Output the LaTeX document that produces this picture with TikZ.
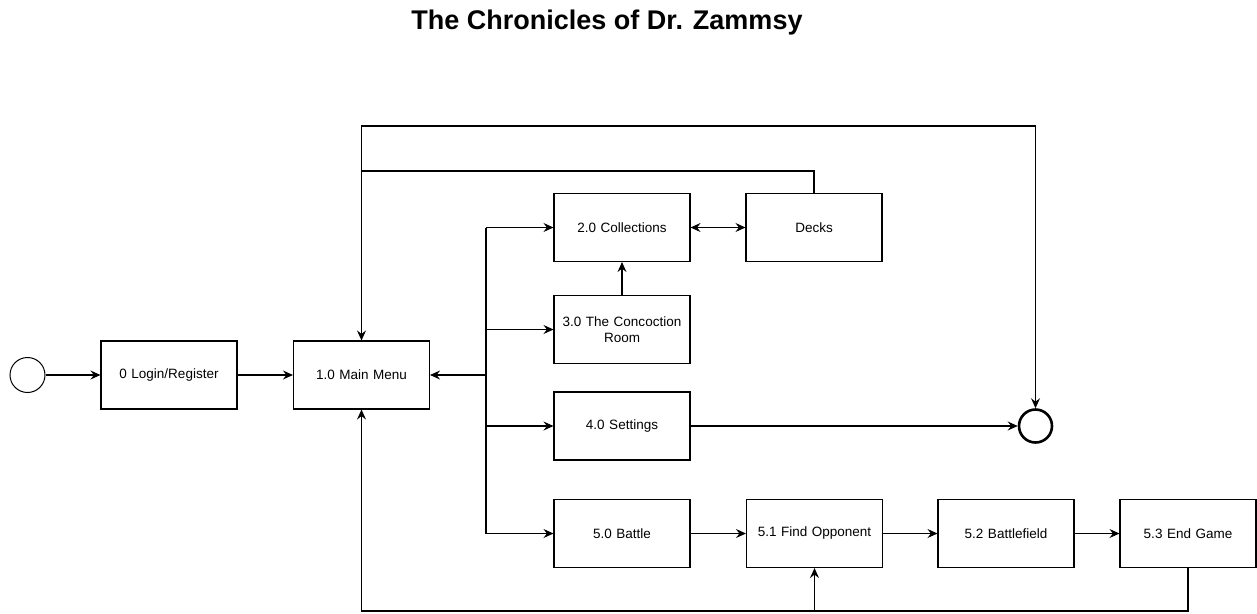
\documentclass[tikz,border=0pt]{standalone}
\usepackage{fontspec}
\setmainfont{Liberation Sans}
\usetikzlibrary{arrows.meta}
\begin{document}
\begin{tikzpicture}[x=1pt,y=-1pt,
  box/.style={draw, line width=1.1pt, minimum width=136pt, minimum height=68pt, inner sep=2pt, align=center, text width=128pt, font=\fontsize{13.5}{16.5}\selectfont},
  conn/.style={line width=1.1pt},
  tip/.tip={Stealth[length=10pt,width=9pt,inset=3.5pt]},
  arr/.style={conn, -tip},
]
\useasboundingbox[fill=white] (0,0) rectangle (1257,613);

\node[font=\bfseries\fontsize{27}{30}\selectfont] (title) at (607,23) {The Chronicles of Dr. Zammsy};

\node[circle, draw, line width=1pt, minimum size=35pt, inner sep=0pt] (start) at (27.5,375) {};
\node[box] (login) at (169,375) {0 Login/Register};
\node[box] (main) at (361.5,375) {1.0 Main Menu};
\node[box] (coll) at (622,227.5) {2.0 Collections};
\node[box] (decks) at (814,227.5) {Decks};
\node[box] (conc) at (622,329.5) {3.0 The Concoction\\Room};
\node[box] (set) at (622,426) {4.0 Settings};
\node[box] (battle) at (622,533.5) {5.0 Battle};
\node[box] (find) at (814.5,533.5) {5.1 Find Opponent};
\node[box] (field) at (1006,533.5) {5.2 Battlefield};
\node[box] (endg) at (1188,533.5) {5.3 End Game};
\node[circle, draw, line width=2.6pt, minimum size=33pt, inner sep=0pt] (endc) at (1035.5,426) {};

\coordinate (ttop) at (486,227.5);
\coordinate (tbot) at (486,533.5);
\coordinate (lvlA) at (0,126);
\coordinate (lvlB) at (0,171);
\coordinate (lvlC) at (0,611);

\draw[arr] (start) -- (login);
\draw[arr] (login) -- (main);

\draw[conn] (ttop) -- (tbot);
\draw[arr] (ttop) -- (coll);
\draw[arr] (ttop |- conc) -- (conc);
\draw[arr] (ttop |- main) -- (main);
\draw[arr] (ttop |- set) -- (set);
\draw[arr] (tbot) -- (battle);

\draw[arr] (conc) -- (coll);
\draw[conn, tip-tip] (coll) -- (decks);
\draw[arr] (set) -- (endc);

\draw[arr] (main.north) -- (main.north |- lvlA) -| (endc.north);
\draw[arr] (decks.north) -- (decks.north |- lvlB) -| (main.north);

\draw[arr] (battle) -- (find);
\draw[arr] (find) -- (field);
\draw[arr] (field) -- (endg);

\draw[arr] (endg.south) -- (endg.south |- lvlC) -| (main.south);
\draw[arr] (find.south |- lvlC) -- (find.south);
\end{tikzpicture}
\end{document}
